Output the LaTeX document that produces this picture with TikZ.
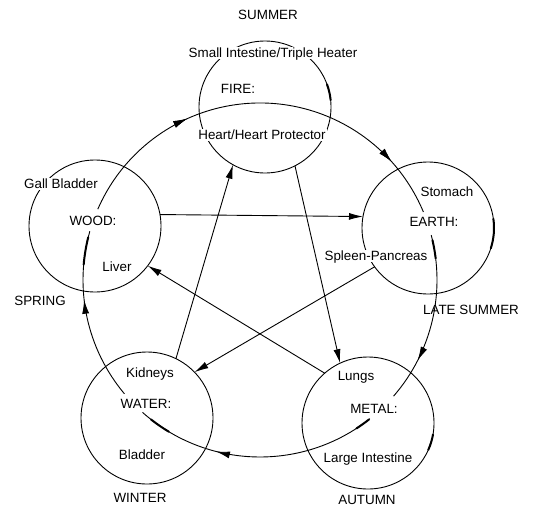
\documentclass[tikz,border=0pt]{standalone}
\usepackage{fontspec}
\setmainfont{Liberation Sans}
\usetikzlibrary{arrows.meta,decorations.markings}
\begin{document}
\begin{tikzpicture}[x=1pt,y=-1pt,
  elem/.style={circle,draw,line width=0.9pt,minimum size=132pt,inner sep=0pt,outer sep=0pt},
  lbl/.style={font=\fontsize{13.4}{15}\selectfont,inner sep=1.5pt,text height=9.6pt,text depth=0pt},
  mlbl/.style={lbl,fill=white},
  conn/.style={line width=0.9pt,-{Latex[length=14pt,width=7pt]}},
  cyc/.style={line width=0.9pt},
  midarrow/.style={postaction={decorate},decoration={markings,
      mark=at position #1 with {\arrow{Latex[length=14pt,width=7pt]}}}},
  thk/.style={line width=2pt,line cap=round}
]
\useasboundingbox (0,0) rectangle (537,511);

% element circles
\node[elem] (fire)  at (265,107) {};
\node[elem] (wood)  at (95,226)  {};
\node[elem] (earth) at (428,228) {};
\node[elem] (metal) at (368,423) {};
\node[elem] (water) at (147,418) {};

% labels
\node[lbl]  (summer) at (268,15)  {SUMMER};
\node[mlbl] (si)     at (273,53)  {Small Intestine/Triple Heater};
\node[lbl]  (firel)  at (238,89)  {FIRE:};
\node[mlbl] (heart)  at (262,135) {Heart/Heart Protector};

\node[mlbl] (gall)   at (61,184)  {Gall Bladder};
\node[lbl]  (woodl)  at (93,221)  {WOOD:};
\node[lbl]  (liver)  at (117,267) {Liver};
\node[lbl]  (spring) at (40,301)  {SPRING};

\node[lbl]  (stom)   at (447,192) {Stomach};
\node[lbl]  (earthl) at (434,222) {EARTH:};
\node[mlbl] (spleen) at (376,256) {Spleen-Pancreas};
\node[lbl]  (late)   at (471,310) {LATE SUMMER};

\node[lbl]  (lungs)  at (356,376) {Lungs};
\node[lbl]  (metall) at (374,409) {METAL:};
\node[lbl]  (li)     at (368,458) {Large Intestine};
\node[lbl]  (autumn) at (367,500) {AUTUMN};

\node[lbl]  (kid)    at (150,373) {Kidneys};
\node[lbl]  (waterl) at (146,404) {WATER:};
\node[lbl]  (blad)   at (142,455) {Bladder};
\node[lbl]  (winter) at (140,498) {WINTER};

% generating cycle (outer arcs)
\coordinate (o) at (260,280);
\path (o) ++(203.6:177) coordinate (c1);
\path (o) ++(345.3:177) coordinate (c2);
\path (o) ++(51.6:177)  coordinate (c3);
\path (o) ++(140:177)   coordinate (c4);
\draw[cyc,midarrow=0.315,midarrow=0.855] (c1) arc[start angle=203.6,end angle=337.4,radius=177];
\draw[cyc,midarrow=0.75] (c2) arc[start angle=345.3,end angle=401,radius=177];
\draw[cyc,midarrow=0.66] (c3) arc[start angle=51.6,end angle=131.6,radius=177];
\draw[cyc,midarrow=0.6]  (c4) arc[start angle=140,end angle=196,radius=177];

% small thick marks
\path (o) ++(185:177) coordinate (t1);
\draw[thk] (t1) arc[start angle=185,end angle=194,radius=177];
\path (o) ++(347:177) coordinate (t2);
\draw[thk] (t2) arc[start angle=347,end angle=353,radius=177];
\path (o) ++(52:177) coordinate (t3);
\draw[thk] (t3) arc[start angle=52,end angle=57,radius=177];
\path (o) ++(121:177) coordinate (t4);
\draw[thk] (t4) arc[start angle=121,end angle=128,radius=177];
\path (fire.center) ++(-20:66) coordinate (t5);
\draw[thk] (t5) arc[start angle=-20,end angle=-6,radius=66];
\path (metal.center) ++(10:66) coordinate (t6);
\draw[thk] (t6) arc[start angle=10,end angle=24,radius=66];
\path (earth.center) ++(-8:66) coordinate (t7);
\draw[thk] (t7) arc[start angle=-8,end angle=18,radius=66];

% controlling cycle (star)
\draw[conn] (wood.10)    -- (earth.170);
\draw[conn] (fire.-63)   -- (metal.115);
\draw[conn] (earth.216)  -- (water.44);
\draw[conn] (metal.131)  -- (wood.-37);
\draw[conn] (water.64.5) -- (fire.241);
\end{tikzpicture}
\end{document}
